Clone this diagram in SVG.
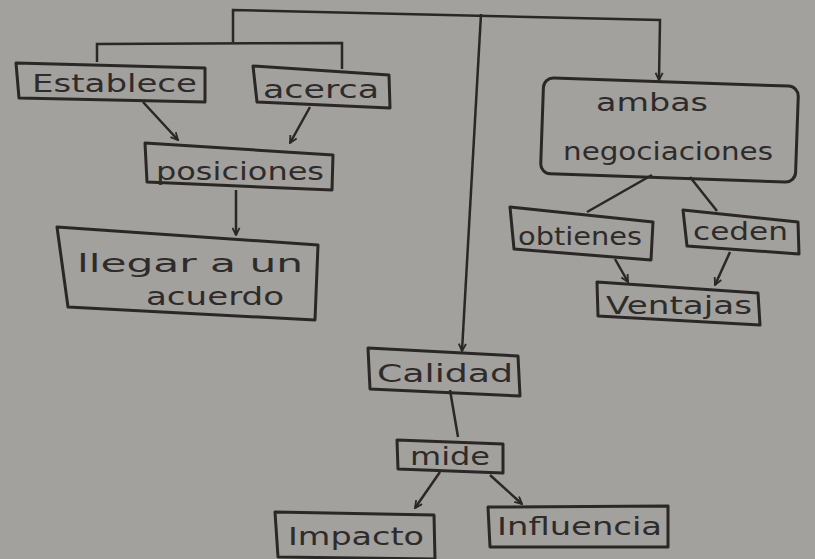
<svg xmlns="http://www.w3.org/2000/svg" width="815" height="559" viewBox="0 0 815 559">
<defs>
<marker id="ah" viewBox="0 0 10 10" refX="9" refY="5" markerWidth="9" markerHeight="9" markerUnits="userSpaceOnUse" orient="auto">
<path d="M1,1 L9,5 L1,9" fill="none" stroke="#2b2727" stroke-width="2"/>
</marker>
<style>
.bx{fill:none;stroke:#2b2727;stroke-width:3;stroke-linejoin:round}
.ln{fill:none;stroke:#2b2727;stroke-width:2.5}
.t{font-family:"DejaVu Sans","Liberation Sans",sans-serif;font-size:24px;fill:#2f2b2b}
</style>
</defs>
<rect width="815" height="559" fill="#a2a19d"/>
<g id="connectors">
<polyline class="ln" points="233,42 233,10 660,20 659,80" marker-end="url(#ah)"/>
<polyline class="ln" points="97,62 97,44 342,43 342,69"/>
<line class="ln" x1="481" y1="14" x2="462" y2="351" marker-end="url(#ah)"/>
<line class="ln" x1="143" y1="102" x2="178" y2="140" marker-end="url(#ah)"/>
<line class="ln" x1="310" y1="107" x2="290" y2="143" marker-end="url(#ah)"/>
<line class="ln" x1="236" y1="190" x2="236" y2="235" marker-end="url(#ah)"/>
<line class="ln" x1="652" y1="175" x2="587" y2="212"/>
<line class="ln" x1="690" y1="177" x2="717" y2="211"/>
<line class="ln" x1="615" y1="259" x2="628" y2="282" marker-end="url(#ah)"/>
<line class="ln" x1="730" y1="252" x2="715" y2="285" marker-end="url(#ah)"/>
<line class="ln" x1="450" y1="390" x2="458" y2="437"/>
<line class="ln" x1="440" y1="472" x2="415" y2="508" marker-end="url(#ah)"/>
<line class="ln" x1="490" y1="475" x2="522" y2="504" marker-end="url(#ah)"/>
</g>
<g id="establece"><polygon class="bx" points="16,63 205,68 205,102 19,98"/><text class="t" x="32" y="92" textLength="165" lengthAdjust="spacingAndGlyphs">Establece</text></g>
<g id="acerca"><polygon class="bx" points="253,66 389,75 390,108 257,102"/><text class="t" x="263" y="98" textLength="116" lengthAdjust="spacingAndGlyphs">acerca</text></g>
<g id="posiciones"><polygon class="bx" points="145,143 333,155 332,190 147,182"/><text class="t" x="156" y="180" textLength="168" lengthAdjust="spacingAndGlyphs">posiciones</text></g>
<g id="llegar"><polygon class="bx" points="57,227 318,245 315,320 68,307"/><text class="t" x="77" y="272" textLength="226" lengthAdjust="spacingAndGlyphs">llegar a un</text><text class="t" x="146" y="305" textLength="138" lengthAdjust="spacingAndGlyphs">acuerdo</text></g>
<g id="ambas"><rect class="bx" x="542" y="82" width="255" height="96" rx="10" transform="rotate(2 670 130)"/><text class="t" x="596" y="111" textLength="112" lengthAdjust="spacingAndGlyphs">ambas</text><text class="t" x="563" y="160" textLength="210" lengthAdjust="spacingAndGlyphs">negociaciones</text></g>
<g id="obtienes"><polygon class="bx" points="510,207 653,222 651,260 514,249"/><text class="t" x="518" y="245" textLength="124" lengthAdjust="spacingAndGlyphs">obtienes</text></g>
<g id="ceden"><polygon class="bx" points="683,210 798,222 799,254 687,246"/><text class="t" x="693" y="240" textLength="95" lengthAdjust="spacingAndGlyphs">ceden</text></g>
<g id="ventajas"><polygon class="bx" points="597,282 758,293 760,325 598,316"/><text class="t" x="606" y="314" textLength="146" lengthAdjust="spacingAndGlyphs">Ventajas</text></g>
<g id="calidad"><polygon class="bx" points="368,348 518,356 520,396 370,389"/><text class="t" x="377" y="382" textLength="136" lengthAdjust="spacingAndGlyphs">Calidad</text></g>
<g id="mide"><polygon class="bx" points="397,440 503,444 503,473 398,469"/><text class="t" x="410" y="465" textLength="80" lengthAdjust="spacingAndGlyphs">mide</text></g>
<g id="impacto"><polygon class="bx" points="275,512 434,515 435,559 278,557"/><text class="t" x="288" y="545" textLength="136" lengthAdjust="spacingAndGlyphs">Impacto</text></g>
<g id="influencia"><polygon class="bx" points="488,507 668,506 668,547 490,547"/><text class="t" x="497" y="535" textLength="165" lengthAdjust="spacingAndGlyphs">Influencia</text></g>
</svg>
